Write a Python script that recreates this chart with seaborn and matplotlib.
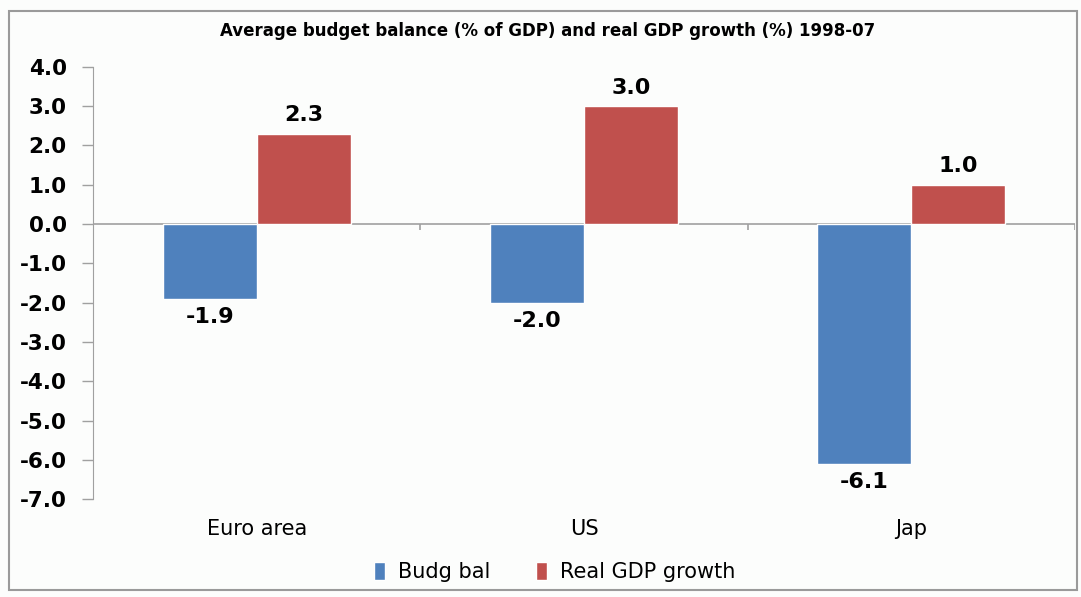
import pandas as pd
import matplotlib.pyplot as plt
import seaborn as sns
from matplotlib.patches import Rectangle

# data
regions = ['Euro area', 'US', 'Jap']
budg_bal = [-1.9, -2.0, -6.1]
gdp_growth = [2.3, 3.0, 1.0]
series = ['Budg bal', 'Real GDP growth']
colors = ['#4F81BD', '#C0504D']
y_ticks = [4, 3, 2, 1, 0, -1, -2, -3, -4, -5, -6, -7]

df = pd.DataFrame({
    'region': regions * 2,
    'series': [series[0]] * 3 + [series[1]] * 3,
    'value': budg_bal + gdp_growth,
})

sns.set_style('white')
plt.rcParams['font.family'] = ['DejaVu Sans']
plt.rcParams['text.color'] = 'black'
plt.rcParams['xtick.labelcolor'] = 'black'
plt.rcParams['ytick.labelcolor'] = 'black'

fig = plt.figure(figsize=(10.81, 5.97), dpi=100, facecolor='#FCFDFC')
ax = fig.add_axes([0.086, 0.164, 0.9085, 0.724])
ax.set_facecolor('#FCFDFC')

sns.barplot(data=df, x='region', y='value', hue='series', order=regions,
            hue_order=series, palette=colors, saturation=1, width=0.575,
            ax=ax, legend=True)

ax.set_xlim(-0.5, 2.5)
ax.set_ylim(-7, 4)
ax.set_yticks(y_ticks)
ax.set_yticklabels([f'{v:.1f}' for v in y_ticks], fontsize=15.5, fontweight='bold')
ax.tick_params(axis='y', direction='out', length=8, color='#A0A0A0', width=1,
               left=True, pad=11, labelcolor='black')
ax.tick_params(axis='x', length=0, pad=14, labelsize=15, labelcolor='black')
ax.set_xlabel('')
ax.set_ylabel('')

for side in ['top', 'right', 'bottom']:
    ax.spines[side].set_visible(False)
ax.spines['left'].set_color('#A0A0A0')

# zero line with category separators
ax.axhline(0, color='#A0A0A0', lw=1.2, zorder=0.5)
ax.vlines([0.5, 1.5, 2.5], 0, -0.15, color='#A0A0A0', lw=1.2)

for cont in ax.containers:
    ax.bar_label(cont, fmt='%.1f', padding=6, fontsize=16, fontweight='bold',
                 color='black')

handles, labels = ax.get_legend_handles_labels()
ax.legend(handles, labels, loc='center', bbox_to_anchor=(0.513, 0.042),
          bbox_transform=fig.transFigure, ncol=2, frameon=False,
          prop={'size': 15}, handlelength=0.55, labelcolor='black',
          handleheight=1.0, columnspacing=2.2, handletextpad=0.6)

fig.text(0.507, 0.948, 'Average budget balance (% of GDP) and real GDP growth (%) 1998-07',
         ha='center', va='center', fontsize=12, fontweight='bold', color='black')

fig.patches.append(Rectangle((0.008, 0.012), 0.988, 0.97, transform=fig.transFigure,
                             fill=False, edgecolor='#9A9A9A', lw=1.5))

fig.savefig('out.png', dpi=100, facecolor=fig.get_facecolor())
